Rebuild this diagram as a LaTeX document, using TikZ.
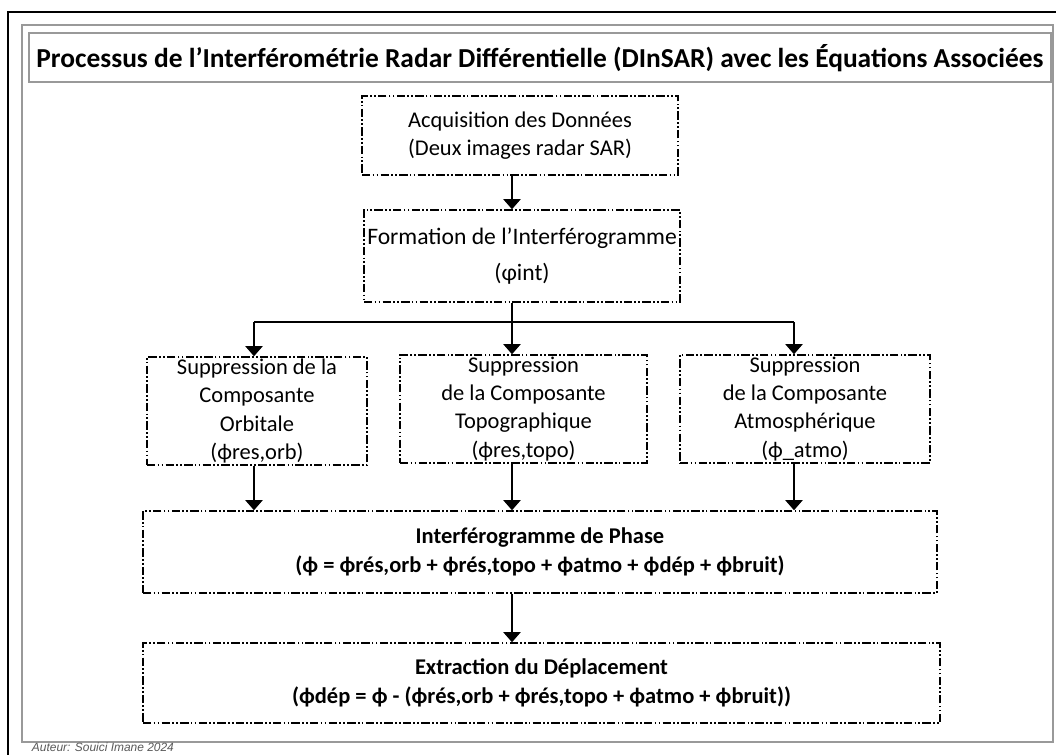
\documentclass[tikz,border=0pt]{standalone}
\usepackage{fontspec}
\setmainfont{Carlito}
\newfontfamily\capfont{Liberation Sans}
\usetikzlibrary{arrows.meta}

\begin{document}
\begin{tikzpicture}[
    stepbox/.style={draw, line width=1.1pt, dash pattern=on 6pt off 1.6pt on 1.2pt off 1.6pt on 1.2pt off 1.6pt,
        align=center, inner sep=0pt, font=\fontsize{16}{20}\selectfont},
    boldbox/.style={stepbox, font=\fontsize{16}{20.5}\selectfont\bfseries},
    link/.style={line width=0.9pt, -{Triangle[width=4.3mm,length=2.5mm]}}
]
    \useasboundingbox (0,0) rectangle (26.4,-18.875);

    \draw[line width=1.4pt] (0.2,-0.3) rectangle (26.8,-19.3);
    \draw[line width=1.3pt, color=gray!80] (0.55,-0.625) rectangle (26.325,-18.55);
    \draw[line width=1.1pt, color=gray!80] (0.725,-0.825) rectangle (26.275,-2.05);

    \node (title) at (13.5,-1.45) {\fontsize{19.5}{22}\selectfont\bfseries Processus de l’Interférométrie Radar Différentielle (DInSAR) avec les Équations Associées};

    \node[stepbox, minimum width=7.9cm, minimum height=1.975cm] (acq) at (13.0,-3.3875)
        {Acquisition des Données\\(Deux images radar SAR)};
    \node[stepbox, minimum width=7.9cm, minimum height=2.3cm, font=\fontsize{16.8}{20}\selectfont] (fm) at (13.05,-6.4)
        {Formation de l’Interférogramme\\[6pt](φint)};

    \node[stepbox, minimum width=5.5cm, minimum height=2.7cm] (orb) at (6.425,-10.275)
        {Suppression de la\\Composante\\Orbitale\\(ϕres,orb)};
    \node[stepbox, minimum width=6.175cm, minimum height=2.7cm] (topo) at (13.0875,-10.225)
        {Suppression\\de la Composante\\Topographique\\(ϕres,topo)};
    \node[stepbox, minimum width=6.25cm, minimum height=2.7cm] (atmo) at (20.125,-10.225)
        {Suppression\\de la Composante\\Atmosphérique\\(ϕ\_atmo)};

    \node[boldbox, minimum width=19.85cm, minimum height=2.05cm] (phase) at (13.5,-13.8)
        {Interférogramme de Phase\\(ϕ = ϕrés,orb + ϕrés,topo + ϕatmo + ϕdép + ϕbruit)};
    \node[boldbox, minimum width=19.925cm, minimum height=2.0cm] (depl) at (13.5375,-17.075)
        {Extraction du Déplacement\\(ϕdép = ϕ - (ϕrés,orb + ϕrés,topo + ϕatmo + ϕbruit))};

    \coordinate (c1) at (6.35,-8.05);
    \coordinate (c2) at (12.8,-8.05);
    \coordinate (c3) at (19.85,-8.05);

    \draw[link] (acq.south -| c2) -- (fm.north -| c2);
    \draw[line width=0.9pt] (fm.south -| c2) -- (c2);
    \draw[line width=0.9pt] (c1) -- (c3);
    \draw[link] (c1) -- (orb.north -| c1);
    \draw[link] (c2) -- (topo.north -| c2);
    \draw[link] (c3) -- (atmo.north -| c3);

    \draw[link] (orb.south -| c1) -- (phase.north -| c1);
    \draw[link] (topo.south -| c2) -- (phase.north -| c2);
    \draw[link] (atmo.south -| c3) -- (phase.north -| c3);
    \draw[link] (phase.south -| c2) -- (depl.north -| c2);

    \node[anchor=base west, color=gray!70!black] (auteur) at (0.675,-18.78)
        {\capfont\itshape\fontsize{8.5}{10}\selectfont Auteur: Souici Imane 2024};
\end{tikzpicture}
\end{document}
